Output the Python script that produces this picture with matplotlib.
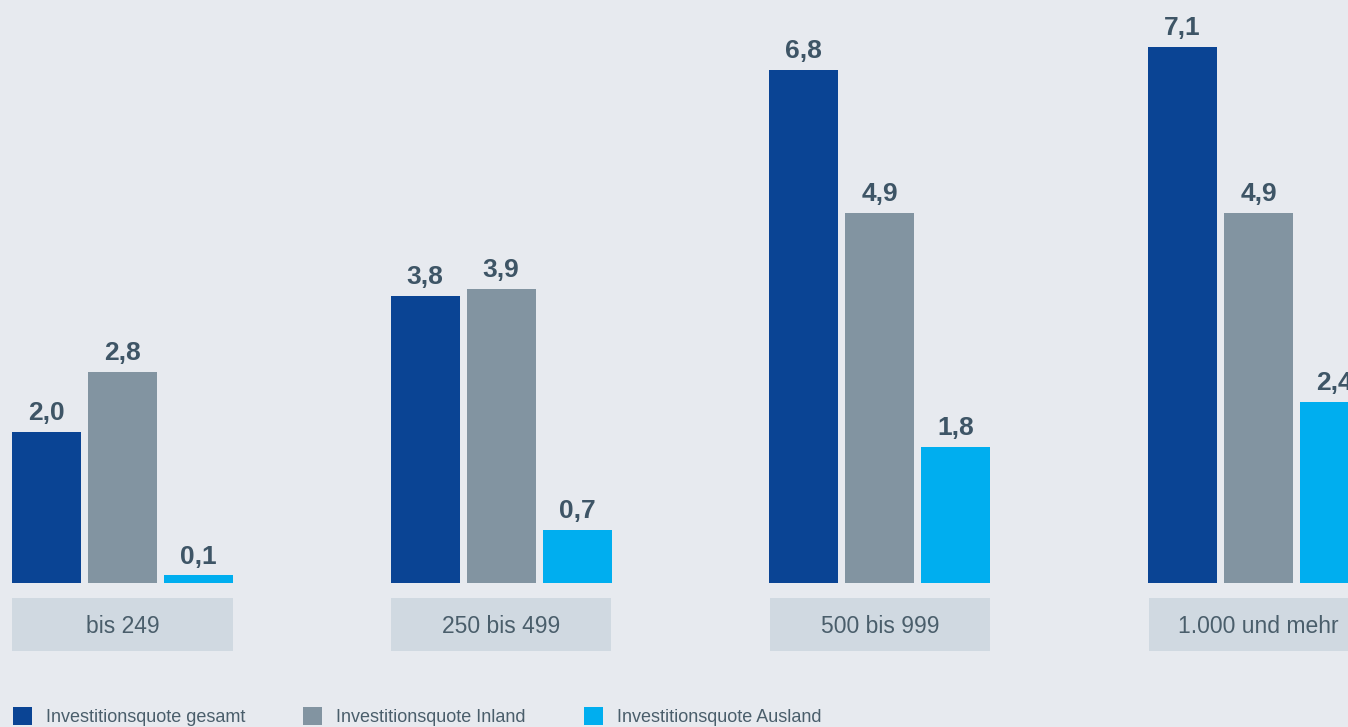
import numpy as np
import matplotlib
matplotlib.use("Agg")
import matplotlib.pyplot as plt
from matplotlib.patches import Rectangle

plt.rcParams['font.family'] = ['Liberation Sans', 'DejaVu Sans']

categories = ["bis 249", "250 bis 499", "500 bis 999", "1.000 und mehr"]
series_names = ["Investitionsquote gesamt", "Investitionsquote Inland", "Investitionsquote Ausland"]
gesamt = [2.0, 3.8, 6.8, 7.1]
inland = [2.8, 3.9, 4.9, 4.9]
ausland = [0.1, 0.7, 1.8, 2.4]

colors = ["#0a4494", "#8294a1", "#00aeef"]
bg = "#e7eaef"
box_col = "#d0d9e1"
label_col = "#3e5566"
cat_col = "#4a5e6b"

W, H = 1348, 727
fig = plt.figure(figsize=(W / 100, H / 100), dpi=100, facecolor=bg)

# baseline sits at y=583 px from the top, 75.5 px per unit
base_px = 583
px_per_unit = 75.5
pitch = 378.67
ax = fig.add_axes([0, (H - base_px) / H, 1, base_px / H])
ax.set_facecolor(bg)
ax.set_xlim(-122.5 / pitch, (W - 122.5) / pitch)
ax.set_ylim(0, base_px / px_per_unit)
ax.axis("off")

x = np.arange(len(categories))
bw = 69 / pitch
step = 76 / pitch

for j, vals in enumerate([gesamt, inland, ausland]):
    pos = x + (j - 1) * step
    bars = ax.bar(pos, vals, width=bw, color=colors[j], clip_on=False, zorder=2)
    for b, v in zip(bars, vals):
        ax.annotate(f"{v:.1f}".replace(".", ","),
                    (b.get_x() + b.get_width() / 2, v),
                    xytext=(0, 8.5), textcoords="offset points",
                    ha="center", va="baseline", fontsize=19,
                    fontweight="bold", color=label_col, annotation_clip=False)

# category boxes under each group
box_top = -(598 - base_px) / px_per_unit
box_bot = -(651 - base_px) / px_per_unit
half = 110 / pitch
for xi, cat in zip(x, categories):
    ax.add_patch(Rectangle((xi - half, box_bot), 2 * half, box_top - box_bot,
                           facecolor=box_col, edgecolor="none", clip_on=False))
    ax.text(xi, (box_top + box_bot) / 2 - 2 / px_per_unit, cat,
            ha="center", va="center",
            fontsize=16.5, color=cat_col, clip_on=False)

# legend
leg_x = [13, 303, 584]
for lx, name, c in zip(leg_x, series_names, colors):
    fig.add_artist(Rectangle((lx / W, (H - 725) / H), 19 / W, 18 / H,
                             facecolor=c, edgecolor="none",
                             transform=fig.transFigure))
    fig.text((lx + 33) / W, (H - 717) / H, name, ha="left", va="center",
             fontsize=13, color=cat_col)

fig.savefig("out.png", dpi=100, facecolor=bg)
